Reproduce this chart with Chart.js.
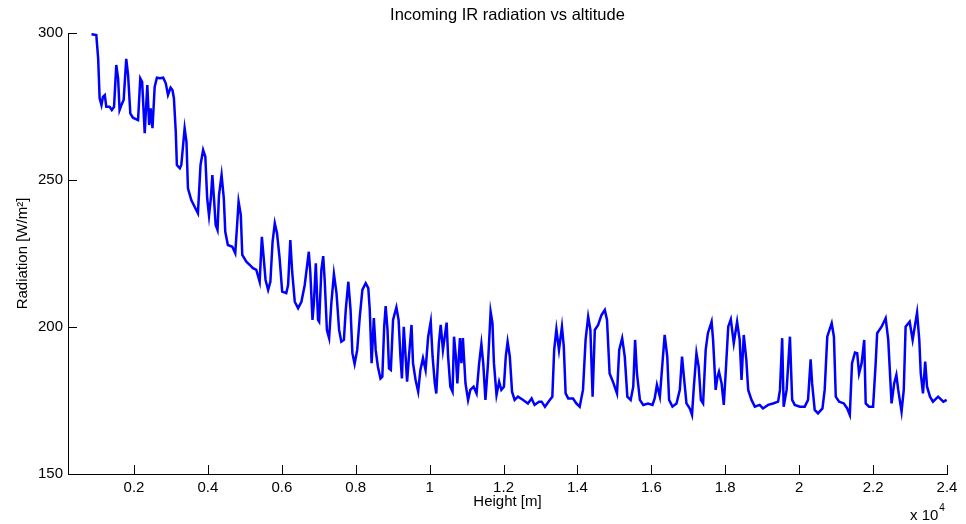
<!DOCTYPE html>
<html>
<head>
<meta charset="utf-8">
<script src="https://cdn.jsdelivr.net/npm/chart.js@4/dist/chart.umd.min.js"></script>
<style>
html,body{margin:0;padding:0;background:#fff;}
#wrap{width:966px;height:524px;}
</style>
</head>
<body>
<div id="wrap"><canvas id="c" width="966" height="524"></canvas></div>
<script>
// Height [m]
const heights = [
  850,980,1030,1070,1120,1160,1210,1250,1340,1400,
  1460,1520,1570,1610,1660,1720,1790,1840,1900,1970,
  2110,2170,2220,2290,2360,2410,2450,2500,2560,2620,
  2700,2790,2860,2920,2990,3040,3080,3130,3160,3240,
  3280,3370,3420,3460,3550,3640,3730,3800,3870,3930,
  3980,4030,4080,4120,4170,4210,4260,4300,4370,4430,
  4470,4540,4660,4740,4790,4830,4890,4930,5040,5130,
  5220,5310,5400,5460,5510,5560,5630,5690,5750,5810,
  5870,5940,6010,6120,6170,6230,6280,6350,6440,6530,
  6620,6730,6770,6830,6870,6920,6980,
  7010,7070,7120,7160,7220,7280,7340,7410,7480,7550,
  7610,7680,7730,7800,7860,7910,7970,8040,8110,8180,
  8270,8340,8380,8430,8490,8540,8600,8670,8720,8770,
  8810,8860,8900,8950,9010,9100,9160,9210,9250,9300,
  9350,9390,9440,9510,9550,9620,9690,9750,9820,9890,
  9960,10030,10080,10140,10180,10250,10300,10360,10460,10500,
  10560,10620,10660,10710,10750,10820,10860,10900,10970,11040,
  11100,11190,11270,11340,11400,11450,11510,11580,11650,11700,
  11740,11810,11880,11940,12010,12060,12110,12170,12230,12300,
  12390,12530,12660,12760,12840,12960,
  13030,13120,13250,13320,13370,13430,13500,13580,13630,13680,
  13750,13880,13970,14060,14150,14220,14290,14350,14410,14470,
  14560,14650,14740,14800,14870,14960,15070,15130,15210,15280,
  15350,15440,15510,15560,15610,15690,15780,15910,16030,16090,
  16150,16230,16300,16360,16430,16480,16570,16680,16770,16830,
  16880,16950,17040,17100,17150,17220,17280,17340,17400,17470,
  17530,17630,17670,17740,17790,17830,17900,17960,18010,18080,
  18150,18230,18320,18390,18440,18500,18570,18620,18710,
  18800,18930,19020,19160,19290,19430,19480,19540,19580,19660,
  19750,19810,19880,20020,20150,20240,20310,20350,20420,20510,
  20630,20690,20760,20880,20940,20990,21080,21210,21300,21370,
  21430,21510,21570,21620,21690,21760,21800,21890,22000,22070,
  22110,22230,22340,22410,22500,22570,22630,22680,22770,22830,
  22880,22990,23070,23190,23250,23290,23350,23410,23460,23540,
  23620,23760,23900,23990
];

// Radiation [W/m^2]
const radiation = [
  299.6,299.3,291.4,277.8,275.5,278.3,278.9,274.9,274.9,273.8,
  274.9,289.1,284.6,273.8,275.5,277.2,291.2,285.7,272.7,271.2,
  270.4,284.6,283.4,265.9,282.3,268.7,274.4,267.6,281.7,284.8,
  284.6,284.8,282.9,278.9,281.4,280.6,277.8,266.4,255.1,254.0,
  255.1,267.6,263.0,247.2,243.2,240.9,238.7,255.1,260.2,257.9,
  243.8,237.9,243.8,251.7,242.6,234.7,233.0,244.9,251.7,243.8,
  232.4,227.9,227.3,225.1,234.7,242.6,238.1,224.5,222.2,221.1,
  220.0,219.4,215.4,230.7,223.4,216.0,212.6,215.4,229.0,235.3,
  231.9,223.4,212.0,211.5,214.3,229.6,218.8,208.6,206.4,208.6,
  214.3,225.6,218.8,202.4,208.6,221.7,202.4,
  201.8,219.4,224.1,216.0,199.0,196.2,208.1,218.0,211.5,199.0,
  195.0,195.6,205.8,215.4,205.8,191.1,187.4,192.2,203.5,212.6,
  214.9,213.2,205.8,187.7,203.0,192.2,186.5,182.5,183.1,200.1,
  207.1,199.0,185.9,185.4,202.4,206.7,202.4,189.9,182.5,200.1,
  189.9,181.4,189.9,200.7,187.7,182.0,178.0,185.4,189.4,185.4,
  196.7,201.8,189.9,180.8,177.4,194.5,200.7,192.2,201.5,189.9,
  179.7,178.0,196.7,189.9,180.8,196.2,187.7,196.2,180.8,175.2,
  178.6,179.7,177.4,187.7,194.2,187.7,175.2,187.7,205.2,201.3,
  187.7,176.9,181.4,178.6,179.7,189.9,195.0,189.9,178.0,175.2,
  176.3,175.2,174.0,175.7,173.5,174.6,
  174.6,172.9,175.2,176.3,192.2,199.2,192.2,200.1,193.3,177.4,
  175.7,175.7,174.0,172.9,178.6,195.6,203.5,199.0,176.3,199.0,
  200.7,204.1,205.8,202.4,184.2,181.4,177.4,192.2,196.2,189.9,
  176.3,175.2,179.7,195.6,184.2,175.2,173.5,174.0,173.5,175.7,
  180.3,176.3,187.7,197.3,189.9,175.2,172.9,174.0,178.6,189.9,
  183.1,174.0,172.3,170.1,179.7,191.1,186.5,175.2,174.0,192.2,
  197.9,201.8,195.6,178.6,183.1,184.8,180.8,173.5,184.2,200.1,
  202.6,194.5,201.8,195.6,182.0,197.3,188.8,178.6,175.2,
  172.9,173.5,172.3,173.5,174.0,174.6,178.6,196.2,172.9,178.6,
  196.7,175.2,173.5,172.9,172.9,175.2,189.0,180.8,171.8,170.6,
  172.3,178.6,196.7,201.3,196.7,176.3,174.6,174.0,172.3,170.1,
  187.7,191.3,191.1,184.2,187.7,195.6,174.0,172.9,172.9,187.7,
  197.9,200.1,203.0,195.6,174.0,180.8,183.7,178.6,171.2,178.6,
  200.1,201.8,195.6,204.9,195.6,184.2,177.4,188.2,179.7,176.3,
  174.6,176.3,174.6,175.2
];

const xTickValues = [2000,4000,6000,8000,10000,12000,14000,16000,18000,20000,22000,24000];
const yTickValues = [150,200,250,300];
const chartTitle = 'Incoming IR radiation vs altitude';

const FONT = '"Liberation Sans", Arial, Helvetica, sans-serif';

const points = heights.map((h, i) => ({x: h, y: radiation[i]}));

const matlabAxes = {
  id: 'matlabAxes',
  afterDatasetsDraw(chart) {
    const {ctx, chartArea: a, scales: {x, y}} = chart;
    ctx.save();
    ctx.strokeStyle = '#000';
    ctx.lineWidth = 1;
    ctx.beginPath();
    x.ticks.forEach(t => {
      const p = Math.round(x.getPixelForValue(t.value)) + 0.5;
      ctx.moveTo(p, a.bottom);
      ctx.lineTo(p, a.bottom - 9);
    });
    y.ticks.forEach(t => {
      const p = Math.round(y.getPixelForValue(t.value)) + 0.5;
      ctx.moveTo(a.left, p);
      ctx.lineTo(a.left + 9, p);
    });
    ctx.stroke();
    ctx.fillStyle = '#000';
    // title centred over the axes
    ctx.textAlign = 'center';
    ctx.textBaseline = 'middle';
    ctx.font = '16.5px ' + FONT;
    ctx.fillText(chartTitle, (a.left + a.right) / 2, 15);
    // axis exponent
    ctx.textAlign = 'left';
    ctx.textBaseline = 'alphabetic';
    ctx.font = '15px ' + FONT;
    const base = 'x 10';
    const w = ctx.measureText(base).width;
    const x0 = a.right - 37;
    ctx.fillText(base, x0, 520);
    ctx.font = '10px ' + FONT;
    ctx.fillText('4', x0 + w + 1, 511);
    ctx.restore();
  }
};

new Chart(document.getElementById('c'), {
  type: 'line',
  data: {
    datasets: [{
      data: points,
      borderColor: '#0000ff',
      borderWidth: 2.5,
      pointRadius: 0,
      tension: 0,
      fill: false
    }]
  },
  options: {
    responsive: false,
    animation: false,
    devicePixelRatio: 1,
    layout: {padding: {left: 0, right: 19, top: 33, bottom: 0}},
    plugins: {
      legend: {display: false},
      tooltip: {enabled: false},
      title: {display: false}
    },
    scales: {
      x: {
        type: 'linear',
        min: 214,
        max: 24000,
        afterBuildTicks: s => { s.ticks = xTickValues.map(v => ({value: v})); },
        afterFit: s => { s.height = 50; },
        grid: {display: true, drawOnChartArea: false, drawTicks: false},
        border: {display: true, color: '#000', width: 1},
        ticks: {
          color: '#000',
          padding: 5,
          maxRotation: 0,
          autoSkip: false,
          font: {family: FONT, size: 15},
          callback: v => String(Math.round(v / 1000) / 10)
        },
        title: {
          display: true,
          text: 'Height [m]',
          color: '#000',
          font: {family: FONT, size: 15},
          padding: {top: 0, bottom: 13}
        }
      },
      y: {
        type: 'linear',
        min: 150,
        max: 300,
        afterBuildTicks: s => { s.ticks = yTickValues.map(v => ({value: v})); },
        afterFit: s => { s.width = 68; },
        grid: {display: true, drawOnChartArea: false, drawTicks: false},
        border: {display: true, color: '#000', width: 1},
        ticks: {
          color: '#000',
          padding: 5,
          autoSkip: false,
          font: {family: FONT, size: 15},
          callback: v => String(v)
        },
        title: {
          display: true,
          text: 'Radiation [W/m²]',
          color: '#000',
          font: {family: FONT, size: 15},
          padding: {top: 14, bottom: 0}
        }
      }
    }
  },
  plugins: [matlabAxes]
});
</script>
</body>
</html>
